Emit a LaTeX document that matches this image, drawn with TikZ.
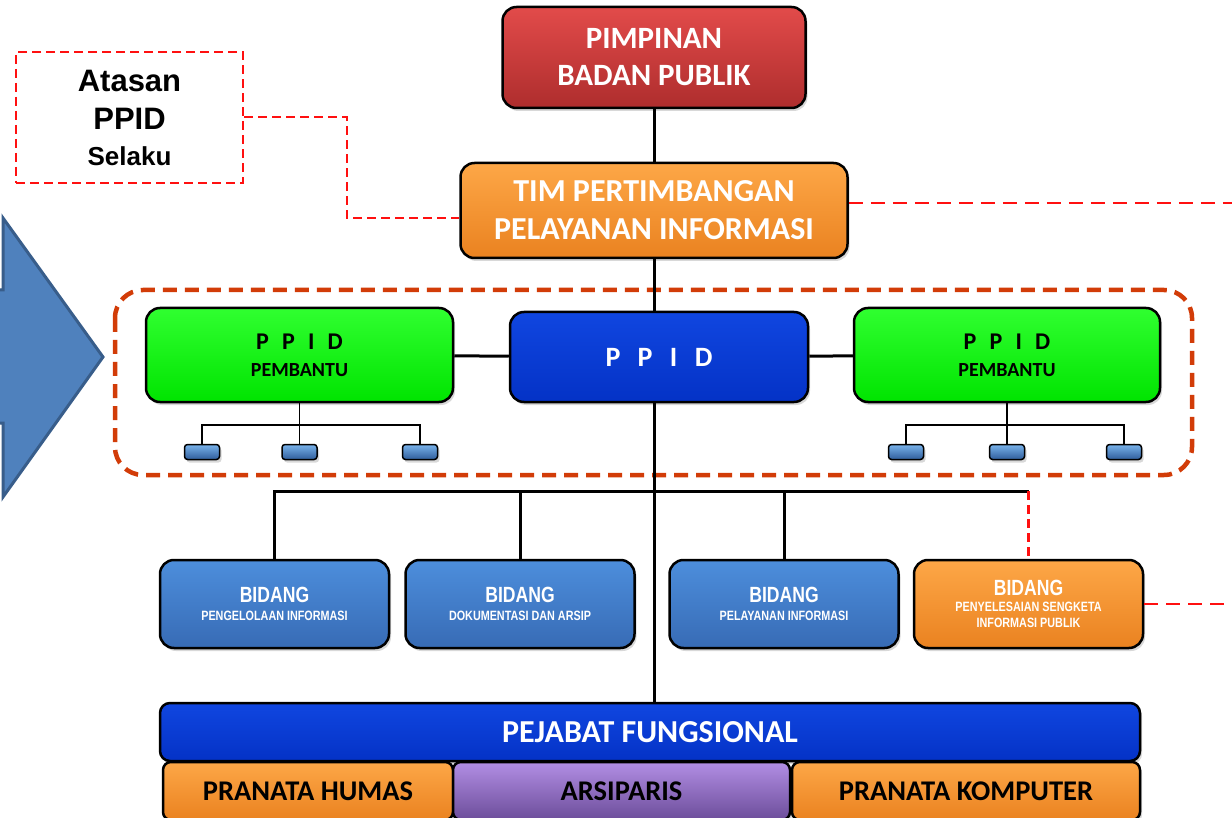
\documentclass[tikz,border=0pt]{standalone}
\usepackage{fontspec}
\setmainfont{Carlito}
\newfontfamily\arialfont{Liberation Sans}
\newfontfamily\narrowfont[FakeStretch=0.8]{Liberation Sans}
\usetikzlibrary{shadows}

\definecolor{redTop}{HTML}{E24B4A}
\definecolor{redBot}{HTML}{AE2D2D}
\definecolor{orTop}{HTML}{FDA747}
\definecolor{orBot}{HTML}{EA8220}
\definecolor{bluTop}{HTML}{1046E0}
\definecolor{bluBot}{HTML}{0432C6}
\definecolor{grnTop}{HTML}{30FF30}
\definecolor{grnBot}{HTML}{00E400}
\definecolor{bidTop}{HTML}{4D8EDC}
\definecolor{bidBot}{HTML}{376BB5}
\definecolor{purTop}{HTML}{B28EE4}
\definecolor{purBot}{HTML}{6C4D9A}
\definecolor{smallTop}{HTML}{7AB4EC}
\definecolor{smallBot}{HTML}{2E5C9A}
\definecolor{arrowFill}{HTML}{4F81BD}
\definecolor{arrowDraw}{HTML}{385D8A}
\definecolor{groupLine}{HTML}{D23C08}
\definecolor{dashRed}{HTML}{FF1010}

\begin{document}
\begin{tikzpicture}[x=1pt, y=-1pt,
    orgbox/.style = {shape=rectangle, rounded corners=14pt, draw=black, line width=2.5pt, align=center, inner sep=0pt,
        drop shadow={shadow xshift=2pt, shadow yshift=-3pt, opacity=.3}},
    redbox/.style = {orgbox, top color=redTop, bottom color=redBot, text=white},
    orbox/.style = {orgbox, top color=orTop, bottom color=orBot, text=white},
    blubox/.style = {orgbox, top color=bluTop, bottom color=bluBot, text=white},
    grnbox/.style = {orgbox, top color=grnTop, bottom color=grnBot, text=black},
    bidbox/.style = {orgbox, top color=bidTop, bottom color=bidBot, text=white, minimum width=229pt, minimum height=88pt,
        font=\narrowfont\bfseries\fontsize{13.5}{16}\selectfont},
    rowbox/.style = {orgbox, rounded corners=8pt, minimum height=58pt, text=black, font=\bfseries\fontsize{28.5}{32}\selectfont},
    subbox/.style = {orgbox, rounded corners=3pt, line width=1.5pt, top color=smallTop, bottom color=smallBot,
        minimum width=35pt, minimum height=15pt},
    notebox/.style = {shape=rectangle, draw=dashRed, line width=2pt, dash pattern=on 9pt off 5pt, align=center, inner sep=0pt},
    conn/.style = {draw=black, line width=3pt},
    subconn/.style = {draw=black, line width=1.8pt},
    reddash/.style = {draw=dashRed, line width=2pt, dash pattern=on 9pt off 5pt},
    groupdash/.style = {draw=groupLine, line width=4.5pt, dash pattern=on 14pt off 8pt, rounded corners=28pt}]

    \useasboundingbox[fill=white] (0,0) rectangle (1232,818);

    \draw[fill=arrowFill, draw=arrowDraw, line width=3pt]
        (-30,290) -- (3,290) -- (3,218) -- (103,357) -- (3,497) -- (3,423) -- (-30,423) -- cycle;

    \draw[groupdash] (115,290) rectangle (1192,475);

    \node[notebox, minimum width=227pt, minimum height=131pt, font=\arialfont\bfseries\fontsize{31}{38}\selectfont]
        (atasan) at (129.5,117.5) {Atasan\\PPID\\[-2pt]{\fontsize{26}{30}\selectfont Selaku}};

    \node[redbox, minimum width=303pt, minimum height=101pt, font=\bfseries\fontsize{31}{37}\selectfont] (pimpinan) at (654,57.5)
        {PIMPINAN\\BADAN PUBLIK};
    \node[orbox, minimum width=387pt, minimum height=95pt, font=\bfseries\fontsize{32}{38}\selectfont] (tim) at (654,210.5)
        {TIM PERTIMBANGAN\\PELAYANAN INFORMASI};

    \node[blubox, minimum width=298pt, minimum height=90pt, font=\bfseries\fontsize{28}{32}\selectfont] (ppid) at (659,357)
        {P\hspace{.62em}P\hspace{.62em}I\hspace{.62em}D};
    \node[grnbox, minimum width=307pt, minimum height=94pt, font=\bfseries\fontsize{20}{27}\selectfont] (pbL) at (299.5,355)
        {{\fontsize{24}{26}\selectfont P\hspace{.55em}P\hspace{.55em}I\hspace{.55em}D}\\PEMBANTU};
    \node[grnbox, minimum width=306pt, minimum height=94pt, font=\bfseries\fontsize{20}{27}\selectfont] (pbR) at (1007,355)
        {{\fontsize{24}{26}\selectfont P\hspace{.55em}P\hspace{.55em}I\hspace{.55em}D}\\PEMBANTU};

    \node[subbox] (subL1) at (202,452) {};
    \node[subbox] (subL2) at (299.5,452) {};
    \node[subbox] (subL3) at (420,452) {};
    \node[subbox] (subR1) at (906,452) {};
    \node[subbox] (subR2) at (1007,452) {};
    \node[subbox] (subR3) at (1124,452) {};

    \node[bidbox] (bid1) at (274.5,604) {{\fontsize{22}{22}\selectfont BIDANG}\\[2pt]PENGELOLAAN INFORMASI};
    \node[bidbox] (bid2) at (520,604) {{\fontsize{22}{22}\selectfont BIDANG}\\[2pt]DOKUMENTASI DAN ARSIP};
    \node[bidbox] (bid3) at (784,604) {{\fontsize{22}{22}\selectfont BIDANG}\\[2pt]PELAYANAN INFORMASI};
    \node[bidbox, top color=orTop, bottom color=orBot] (bid4) at (1028.5,604)
        {{\fontsize{22}{22}\selectfont BIDANG}\\[0pt]PENYELESAIAN SENGKETA\\INFORMASI PUBLIK};

    \node[blubox, rounded corners=10pt, minimum width=980pt, minimum height=58pt, font=\bfseries\fontsize{32}{36}\selectfont]
        (pejabat) at (650,732) {PEJABAT FUNGSIONAL};
    \node[rowbox, top color=orTop, bottom color=orBot, minimum width=290pt] (humas) at (308,791) {PRANATA HUMAS};
    \node[rowbox, top color=purTop, bottom color=purBot, minimum width=337pt] (arsip) at (621.5,791) {ARSIPARIS};
    \node[rowbox, top color=orTop, bottom color=orBot, minimum width=348pt] (komputer) at (966,791) {PRANATA KOMPUTER};

    \coordinate (bus) at (654,491);
    \coordinate (edgeR) at (1232,0);

    \draw[conn] (pimpinan) -- (tim);
    \draw[conn] (tim.south) -- (tim.south |- ppid.north);
    \draw[conn] (bus |- ppid.south) -- (bus |- pejabat.north);
    \draw[conn] (pbL) -- (ppid);
    \draw[conn] (ppid) -- (pbR);

    \draw[conn] (bid1.north) |- (bid4.north |- bus);
    \draw[conn] (bid2.north) -- (bid2.north |- bus);
    \draw[conn] (bid3.north) -- (bid3.north |- bus);
    \draw[reddash, line width=2.5pt] (bid4.north |- bus) -- (bid4.north);

    \draw[subconn] (pbL.south) -- (subL2.north);
    \draw[subconn] (subL1.north) |- (pbL.south |- 0,425) -| (subL3.north);
    \draw[subconn] (pbR.south) -- (subR2.north);
    \draw[subconn] (subR1.north) |- (pbR.south |- 0,425) -| (subR3.north);

    \draw[reddash] (atasan.east) -- ++(103,0) |- ([yshift=-8pt]tim.west);
    \draw[reddash, dash pattern=on 14pt off 8pt] ([yshift=7pt]tim.east) -- ([yshift=7pt]tim.east -| edgeR);
    \draw[reddash, dash pattern=on 14pt off 8pt] (bid4.east) -- (bid4.east -| edgeR);
\end{tikzpicture}
\end{document}
